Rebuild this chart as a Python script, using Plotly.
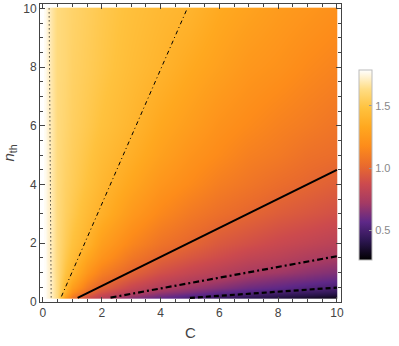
import plotly.graph_objects as go

# grid (C across, n_th down the rows)
C_vals = [0.08, 0.15, 0.3, 0.5, 0.75, 1, 1.5, 2, 3, 4, 5, 6, 7, 8, 9, 9.95, 10]
n_vals = [0.14, 0.2, 0.35, 0.5, 0.75, 1, 1.5, 2, 3, 4, 5, 6, 8, 9.95, 10]
f_vals = [
    [1.78, 1.75, 1.70, 1.62, 1.26, 1.08, 0.90, 0.80, 0.66, 0.58, 0.51, 0.46, 0.41, 0.38, 0.34, 0.31, 0.31],
    [1.78, 1.75, 1.70, 1.62, 1.31, 1.12, 0.94, 0.84, 0.71, 0.62, 0.55, 0.50, 0.46, 0.42, 0.39, 0.36, 0.36],
    [1.78, 1.75, 1.70, 1.62, 1.39, 1.21, 1.03, 0.92, 0.79, 0.70, 0.64, 0.58, 0.54, 0.50, 0.47, 0.44, 0.44],
    [1.78, 1.75, 1.70, 1.62, 1.42, 1.27, 1.09, 0.98, 0.85, 0.76, 0.70, 0.65, 0.60, 0.57, 0.53, 0.50, 0.50],
    [1.78, 1.75, 1.70, 1.62, 1.46, 1.35, 1.17, 1.06, 0.93, 0.84, 0.78, 0.73, 0.68, 0.64, 0.61, 0.58, 0.58],
    [1.78, 1.75, 1.69, 1.62, 1.49, 1.40, 1.23, 1.12, 0.99, 0.90, 0.84, 0.79, 0.74, 0.71, 0.67, 0.64, 0.64],
    [1.78, 1.74, 1.69, 1.62, 1.52, 1.45, 1.32, 1.22, 1.08, 0.99, 0.93, 0.88, 0.83, 0.80, 0.76, 0.73, 0.73],
    [1.78, 1.74, 1.69, 1.62, 1.54, 1.48, 1.39, 1.28, 1.15, 1.06, 1.00, 0.94, 0.90, 0.86, 0.83, 0.80, 0.80],
    [1.77, 1.74, 1.69, 1.62, 1.56, 1.52, 1.44, 1.38, 1.25, 1.16, 1.09, 1.04, 1.00, 0.96, 0.93, 0.90, 0.90],
    [1.77, 1.74, 1.68, 1.62, 1.57, 1.54, 1.48, 1.42, 1.32, 1.23, 1.17, 1.11, 1.07, 1.03, 1.00, 0.97, 0.97],
    [1.77, 1.74, 1.68, 1.62, 1.58, 1.55, 1.50, 1.45, 1.37, 1.29, 1.22, 1.17, 1.12, 1.09, 1.05, 1.03, 1.03],
    [1.77, 1.73, 1.68, 1.62, 1.59, 1.56, 1.52, 1.48, 1.41, 1.33, 1.27, 1.21, 1.17, 1.13, 1.10, 1.07, 1.07],
    [1.77, 1.73, 1.67, 1.62, 1.60, 1.57, 1.54, 1.51, 1.45, 1.40, 1.34, 1.29, 1.24, 1.21, 1.17, 1.14, 1.14],
    [1.77, 1.73, 1.67, 1.62, 1.60, 1.58, 1.55, 1.52, 1.47, 1.43, 1.40, 1.34, 1.30, 1.26, 1.23, 1.20, 1.20],
    [1.77, 1.73, 1.67, 1.62, 1.60, 1.58, 1.55, 1.52, 1.47, 1.43, 1.40, 1.34, 1.30, 1.26, 1.23, 1.20, 1.20],
]

# contour lines (end points)
dotted_C = [0.21, 0.28]
dotted_n = [10, 0.14]
steep_C = [0.63, 4.91]
steep_n = [0.19, 10]
solid_C = [1.18, 10]
solid_n = [0.14, 4.5]
dashdot_C = [2.3, 10]
dashdot_n = [0.15, 1.56]
dashed_C = [5.0, 10]
dashed_n = [0.14, 0.49]

cbar_ticks = [0.5, 1.0, 1.5]
cbar_text = ['0.5', '1.0', '1.5']

sunset = [
    [0.0, '#000000'],
    [0.1, '#2c1650'],
    [0.2, '#5e2888'],
    [0.3, '#a43a64'],
    [0.4, '#cc4a4e'],
    [0.5, '#ea6c2c'],
    [0.6, '#fd8c1a'],
    [0.7, '#ffa81f'],
    [0.8, '#ffc23e'],
    [0.9, '#ffdd85'],
    [1.0, '#ffffff'],
]

fig = go.Figure()
fig.add_trace(go.Heatmap(x=C_vals, y=n_vals, z=f_vals, zsmooth='best',
                         colorscale=sunset, zmin=0.26, zmax=1.79,
                         colorbar=dict(thickness=13, len=0.638, y=0.46, x=1.06,
                                       xanchor='left', xpad=0, ypad=0,
                                       outlinewidth=1, outlinecolor='#bbbbbb',
                                       tickvals=cbar_ticks, ticktext=cbar_text,
                                       ticks='inside', ticklen=3, tickcolor='#999999',
                                       tickfont=dict(family='Liberation Sans', size=11, color='#888888'))))

def add_line(xs, ys, dash, width):
    fig.add_trace(go.Scatter(x=xs, y=ys, mode='lines', showlegend=False,
                             line=dict(color='black', dash=dash, width=width)))

add_line(dotted_C, dotted_n, '1px,3px', 1)
add_line(steep_C, steep_n, '4px,3px,1px,3px', 1)
add_line(solid_C, solid_n, 'solid', 2)
add_line(dashdot_C, dashdot_n, '6px,3px,2px,3px', 2.2)
add_line(dashed_C, dashed_n, '5px,3px', 2.2)

axis_style = dict(showline=True, linecolor='#444444', linewidth=1, mirror='ticks',
                  ticks='inside', ticklen=5, tickcolor='#444444', showgrid=False,
                  zeroline=False, tickvals=[0, 2, 4, 6, 8, 10], automargin=False,
                  tickfont=dict(family='Liberation Sans', size=12, color='#444444'),
                  minor=dict(dtick=0.5, ticks='inside', ticklen=3, tickcolor='#444444'))

fig.update_layout(
    width=399, height=346,
    margin=dict(l=40, r=58, t=4, b=44),
    paper_bgcolor='white', plot_bgcolor='white',
    showlegend=False,
    xaxis=dict(range=[-0.1, 10.14], title=dict(text='C', standoff=8,
               font=dict(family='Liberation Sans', size=15, color='#444444')), **axis_style),
    yaxis=dict(range=[0, 10.15], title=dict(text='<i>n</i><sub>th</sub>', standoff=6,
               font=dict(family='Liberation Sans', size=15, color='#444444')), **axis_style),
)

# page body has a default 8px margin, drop it so the figure sits at the corner
fig.write_html("out.html", config={'displayModeBar': False},
               post_script="document.body.style.margin='0';")
